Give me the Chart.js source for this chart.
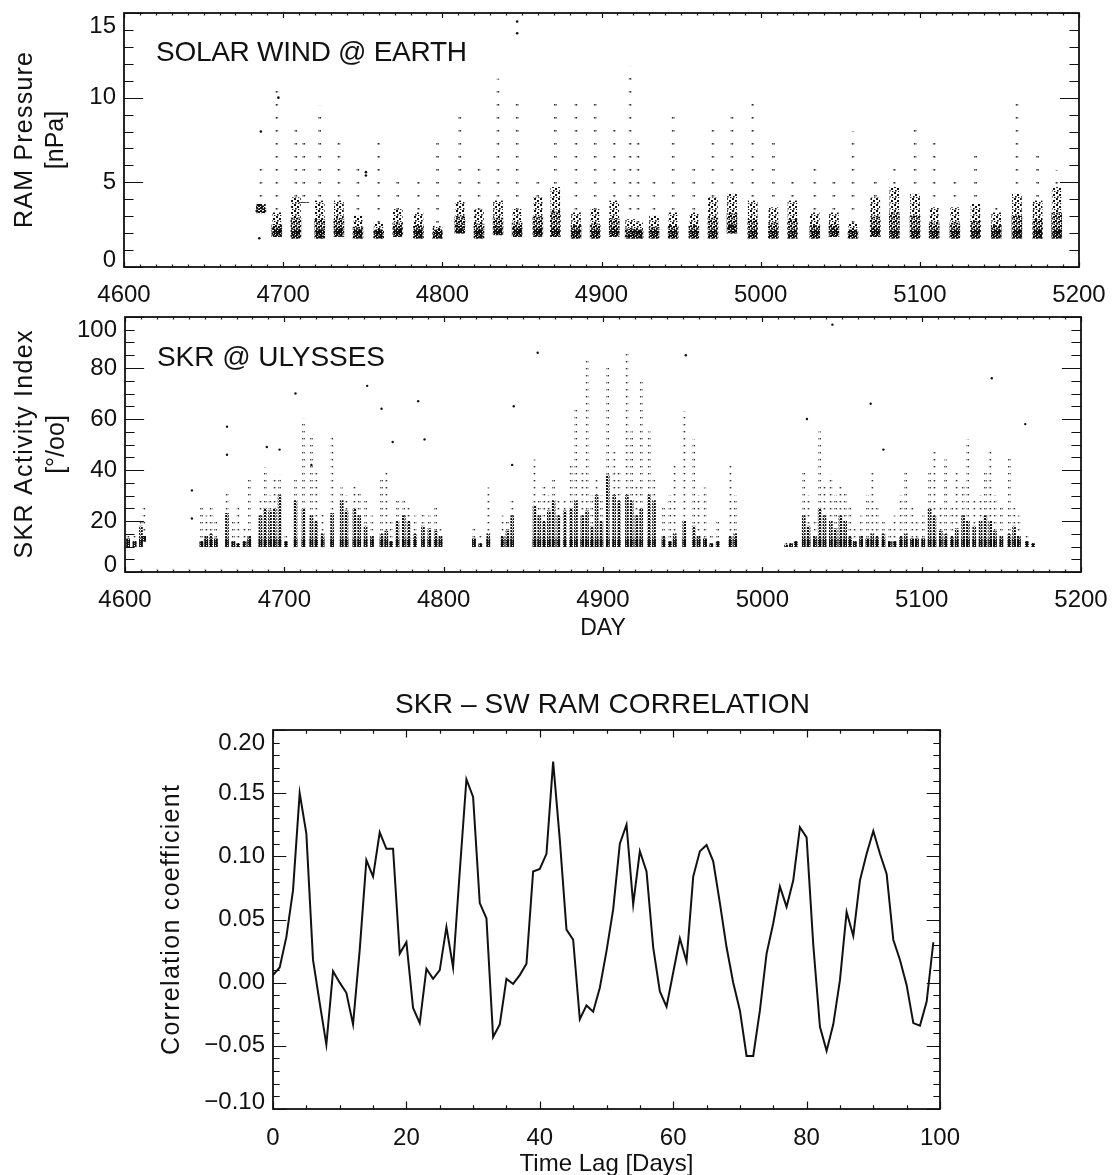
<!DOCTYPE html>
<html>
<head>
<meta charset="utf-8">
<script src="https://cdn.jsdelivr.net/npm/chart.js@4.4.0/dist/chart.umd.min.js"></script>
<style>
  html, body { margin: 0; padding: 0; background: #fff; }
  #wrap { position: relative; width: 1114px; height: 1175px; }
  canvas { position: absolute; left: 0; }
</style>
</head>
<body>
<div id="wrap">
  <canvas id="swChart" width="1114" height="315" style="top:0"></canvas>
  <canvas id="skrChart" width="1114" height="345" style="top:305px"></canvas>
  <canvas id="corrChart" width="1114" height="515" style="top:660px"></canvas>
</div>
<script>
// --- SOLAR WIND RAM PRESSURE [nPa], one entry per streak of points ---
const swDay  = [4686, 4696, 4708, 4713, 4723, 4735, 4747, 4760, 4772, 4785,
                4797, 4811, 4823, 4835, 4847, 4860, 4871, 4884, 4896, 4908,
                4918, 4923, 4933, 4945, 4958, 4970, 4982, 4995, 5008, 5020,
                5034, 5046, 5058, 5072, 5084, 5097, 5109, 5122, 5135, 5148,
                5161, 5174, 5186];
const swLow  = [3.2, 1.8, 1.7, 3.8, 1.7, 1.8, 1.7, 1.7, 1.8, 1.7,
                1.7, 2.0, 1.7, 1.9, 1.8, 1.8, 1.8, 1.7, 1.7, 1.8,
                1.7, 1.7, 1.7, 1.7, 1.7, 1.7, 2.0, 1.7, 1.7, 1.7,
                1.7, 1.8, 1.7, 1.8, 1.7, 1.7, 1.7, 1.7, 1.7, 1.7,
                1.7, 1.7, 1.7];
const swHigh = [3.7, 3.2, 4.1, 3.8, 3.9, 3.9, 3.0, 2.6, 3.4, 3.2,
                2.4, 3.9, 3.4, 3.9, 3.4, 4.1, 4.7, 3.2, 3.4, 3.9,
                2.8, 2.6, 3.0, 3.2, 3.2, 4.1, 4.3, 3.9, 3.5, 3.9,
                3.2, 3.2, 2.6, 4.1, 4.7, 4.3, 3.5, 3.5, 3.7, 3.2,
                4.3, 3.9, 4.7];
const swTop  = [6.2, 10.6, 8.4, 7.8, 9.5, 7.5, 6.4, 7.8, 5.0, 5.3,
                7.3, 9.4, 6.2, 11.1, 9.7, 5.5, 9.9, 10.1, 9.9, 8.2,
                11.8, 7.7, 5.5, 9.1, 6.1, 8.3, 9.4, 9.9, 7.5, 5.5,
                6.1, 5.3, 8.0, 5.6, 6.1, 8.7, 7.7, 5.6, 7.1, 3.9,
                10.1, 7.1, 5.7];
const swSpotDay = [4685, 4686, 4847, 4847, 4752, 4752, 4697];
const swSpotVal = [1.7, 8.0, 14.5, 13.8, 5.4, 5.6, 10.0];

// --- SKR ACTIVITY INDEX [per mille], one entry per column of points ---
const skrDay  = [4602, 4606, 4610, 4612, 4648, 4651, 4654, 4657, 4664, 4668,
                 4671, 4675, 4678, 4685, 4688, 4691, 4694, 4697, 4701, 4707,
                 4712, 4717, 4720, 4724, 4730, 4736, 4739, 4744, 4747, 4751,
                 4755, 4761, 4764, 4767, 4771, 4775, 4778, 4782, 4787, 4791,
                 4795, 4798, 4819, 4823, 4828, 4837, 4840, 4843, 4857, 4860,
                 4863, 4866, 4869, 4872, 4876, 4880, 4883, 4887, 4890, 4893,
                 4896, 4899, 4903, 4907, 4910, 4915, 4918, 4921, 4924, 4929,
                 4932, 4938, 4942, 4945, 4951, 4957, 4960, 4964, 4968, 4972,
                 4980, 4983, 5015, 5018, 5021, 5026, 5029, 5033, 5036, 5039,
                 5043, 5046, 5049, 5052, 5055, 5058, 5062, 5066, 5069, 5072,
                 5076, 5080, 5083, 5087, 5090, 5094, 5097, 5101, 5105, 5108,
                 5112, 5115, 5119, 5122, 5126, 5129, 5133, 5137, 5140, 5143,
                 5146, 5150, 5155, 5158, 5161, 5166, 5170];
const skrLow  = [10, 10, 10, 12, 10, 10, 10, 10, 10, 10,
                 10, 10, 10, 10, 10, 10, 10, 10, 10, 10,
                 10, 10, 10, 10, 10, 10, 10, 10, 10, 10,
                 10, 10, 10, 10, 10, 10, 10, 10, 10, 10,
                 10, 10, 10, 10, 10, 10, 10, 10, 10, 10,
                 10, 10, 10, 10, 10, 10, 10, 10, 10, 10,
                 10, 10, 10, 10, 10, 10, 10, 10, 10, 10,
                 10, 10, 10, 10, 10, 10, 10, 10, 10, 10,
                 10, 10, 10, 10, 10, 10, 10, 10, 10, 10,
                 10, 10, 10, 10, 10, 10, 10, 10, 10, 10,
                 10, 10, 10, 10, 10, 10, 10, 10, 10, 10,
                 10, 10, 10, 10, 10, 10, 10, 10, 10, 10,
                 10, 10, 10, 10, 10, 10, 10];
const skrHigh = [13, 12, 18, 14, 12, 14, 15, 13, 23, 12,
                 11, 12, 14, 22, 25, 24, 25, 30, 12, 28,
                 25, 22, 20, 15, 23, 28, 24, 25, 22, 18,
                 14, 15, 16, 12, 20, 22, 20, 15, 18, 17,
                 16, 14, 13, 11, 15, 14, 16, 22, 26, 22,
                 20, 24, 28, 22, 24, 25, 28, 22, 24, 18,
                 30, 20, 38, 30, 28, 30, 28, 22, 25, 30,
                 28, 14, 12, 15, 20, 18, 14, 13, 11, 12,
                 14, 15, 10.5, 11, 12, 22, 18, 14, 25, 22,
                 20, 17, 22, 20, 14, 12, 14, 13, 15, 14,
                 15, 12, 12, 14, 15, 13, 13, 13, 25, 22,
                 16, 15, 14, 17, 22, 20, 18, 20, 22, 20,
                 16, 14, 15, 18, 14, 12, 11];
const skrTop  = [16, 14, 21, 25.5, 26, 22, 26, 20, 32, 20,
                 25, 18, 37, 29, 41, 30, 38, 38, 15, 36,
                 60, 53, 40, 23, 53, 33, 30, 35, 31, 28,
                 22, 36, 40, 20, 29, 28, 26, 22, 24, 22,
                 25, 18, 17, 16, 33, 22, 20, 28, 44, 28,
                 35, 30, 37, 28, 28, 42, 65, 40, 83, 30,
                 36, 30, 80, 49, 40, 86, 55, 35, 76, 55,
                 36, 25, 30, 42, 63, 52, 30, 33, 15, 20,
                 42, 30, 12, 12, 13, 40, 30, 20, 55, 35,
                 38, 30, 35, 32, 25, 18, 22, 30, 40, 25,
                 20, 18, 22, 30, 39, 25, 20, 22, 40, 48,
                 25, 44, 25, 39, 35, 52, 28, 30, 40, 47,
                 30, 25, 45, 25, 22, 14, 13];
const skrSpotDay = [4642, 4642, 4664, 4664, 4689, 4697, 4707, 4717, 4752, 4761,
                    4768, 4784, 4788, 4843, 4844, 4859, 4952, 5028, 5044, 5068,
                    5076, 5144, 5165];
const skrSpotVal = [32, 21, 57, 46, 49, 48, 70, 42, 73, 64,
                    51, 67, 52, 42, 65, 86, 85, 60, 97, 66,
                    48, 76, 58];

// --- SKR - SW RAM CORRELATION vs time lag ---
const lagDays = [0, 1, 2, 3, 4, 5, 6, 7, 8, 9,
                 10, 11, 12, 13, 14, 15, 16, 17, 18, 19,
                 20, 21, 22, 23, 24, 25, 26, 27, 28, 29,
                 30, 31, 32, 33, 34, 35, 36, 37, 38, 39,
                 40, 41, 42, 43, 44, 45, 46, 47, 48, 49,
                 50, 51, 52, 53, 54, 55, 56, 57, 58, 59,
                 60, 61, 62, 63, 64, 65, 66, 67, 68, 69,
                 70, 71, 72, 73, 74, 75, 76, 77, 78, 79,
                 80, 81, 82, 83, 84, 85, 86, 87, 88, 89,
                 90, 91, 92, 93, 94, 95, 96, 97, 98, 99];
const corrCoef = [0.006, 0.012, 0.036, 0.073, 0.150, 0.118, 0.018, -0.016, -0.049, 0.009,
                  0.000, -0.008, -0.033, 0.026, 0.097, 0.084, 0.119, 0.106, 0.106, 0.023,
                  0.032, -0.020, -0.032, 0.011, 0.003, 0.010, 0.044, 0.012, 0.088, 0.161,
                  0.147, 0.063, 0.051, -0.043, -0.033, 0.003, -0.001, 0.006, 0.015, 0.088,
                  0.090, 0.102, 0.175, 0.113, 0.042, 0.034, -0.029, -0.018, -0.023, -0.004,
                  0.025, 0.058, 0.110, 0.125, 0.062, 0.104, 0.088, 0.028, -0.007, -0.019,
                  0.008, 0.035, 0.017, 0.084, 0.104, 0.109, 0.096, 0.063, 0.028, 0.000,
                  -0.022, -0.058, -0.058, -0.022, 0.023, 0.047, 0.076, 0.060, 0.081, 0.123,
                  0.115, 0.030, -0.035, -0.054, -0.033, 0.002, 0.056, 0.037, 0.081, 0.102,
                  0.120, 0.102, 0.086, 0.034, 0.018, -0.002, -0.032, -0.034, -0.015, 0.032];

const FONT = '"Liberation Sans", Arimo, Arial, sans-serif';
const INK = '#111';

// small dot textures so the streaks read as clouds of points
function stipple(w, h, dots, color) {
    const c = document.createElement('canvas');
    c.width = w; c.height = h;
    const g = c.getContext('2d');
    g.fillStyle = color || INK;
    dots.forEach(([x, y, s]) => g.fillRect(x, y, s || 2, s || 2));
    return g.createPattern(c, 'repeat');
}
const patCore  = stipple(4, 3, [[0, 0], [2, 1.5]]);
const patLower = stipple(5, 5, [[0, 0], [3, 1], [1, 2.5], [3.5, 3.5]]);
const patUpper = stipple(6, 6, [[0, 0], [3, 2], [1, 4, 1.6], [4, 5, 1.4]]);
const patTail  = stipple(2, 13, [[0, 0, 1.6]], '#333');
const patColB  = stipple(3, 2, [[0, 0, 2], [2, 1, 1]]);
const patCol   = stipple(3, 3, [[0, 0, 2], [2, 1.5, 1]]);
const patTailS = stipple(2, 7, [[0, 0, 1.4]], '#333');

function drawText(ctx, t) {
    ctx.save();
    ctx.translate(t.x, t.y);
    if (t.rot) ctx.rotate(t.rot);
    ctx.font = t.size + 'px ' + FONT;
    ctx.fillStyle = INK;
    ctx.textAlign = 'center';
    ctx.textBaseline = 'middle';
    if (t.w && 'letterSpacing' in ctx) {
        const natural = ctx.measureText(t.text).width;
        const gap = (t.w - natural) / Math.max(t.text.length - 1, 1);
        ctx.letterSpacing = gap.toFixed(2) + 'px';
        ctx.translate(gap / 2, 0);
    }
    ctx.fillText(t.text, 0, 0);
    ctx.restore();
}

// IDL style box: inward ticks on all four sides, labels, titles
const idlFrame = {
    id: 'idlFrame',
    afterDraw(chart, args, o) {
        const { ctx, chartArea: a } = chart;
        const x = chart.scales.x, y = chart.scales.y;
        const xLen = (a.bottom - a.top) * 0.02;
        const yLen = (a.right - a.left) * 0.02;
        ctx.save();
        ctx.strokeStyle = INK;
        ctx.lineWidth = 1.2;
        ctx.beginPath();
        const nx = Math.round((x.max - x.min) / o.xMinor);
        for (let i = 0; i <= nx; i++) {
            const v = x.min + i * o.xMinor;
            const major = Math.abs(v / o.xMajor - Math.round(v / o.xMajor)) < 1e-6;
            const len = major ? xLen : xLen / 2;
            const px = Math.round(x.getPixelForValue(v)) + 0.5;
            ctx.moveTo(px, a.bottom); ctx.lineTo(px, a.bottom - len);
            ctx.moveTo(px, a.top); ctx.lineTo(px, a.top + len);
        }
        const ny = Math.round((y.max - y.min) / o.yMinor);
        for (let i = 0; i <= ny; i++) {
            const v = y.min + i * o.yMinor;
            const major = Math.abs(v / o.yMajor - Math.round(v / o.yMajor)) < 1e-6;
            const len = major ? yLen : yLen / 2;
            const py = Math.round(y.getPixelForValue(v)) + 0.5;
            ctx.moveTo(a.left, py); ctx.lineTo(a.left + len, py);
            ctx.moveTo(a.right, py); ctx.lineTo(a.right - len, py);
        }
        ctx.stroke();
        ctx.lineWidth = 1.8;
        ctx.strokeRect(a.left, a.top, a.right - a.left, a.bottom - a.top);

        ctx.fillStyle = INK;
        ctx.font = '24px ' + FONT;
        ctx.textAlign = 'center';
        ctx.textBaseline = 'middle';
        const mx = Math.round((x.max - x.min) / o.xMajor);
        for (let i = 0; i <= mx; i++) {
            const v = x.min + i * o.xMajor;
            ctx.fillText(o.xFmt(v), x.getPixelForValue(v), a.bottom + o.xGap);
        }
        ctx.textAlign = 'right';
        const my = Math.round((y.max - y.min) / o.yMajor);
        for (let i = 0; i <= my; i++) {
            const v = y.min + i * o.yMajor;
            ctx.textBaseline = i === 0 ? 'alphabetic' : (i === my ? 'top' : 'middle');
            const py = y.getPixelForValue(v) + (i === my ? 1 : 0);
            ctx.fillText(o.yFmt(v), a.left - 8, py);
        }
        ctx.restore();
        (o.texts || []).forEach(t => drawText(ctx, t));
    }
};
Chart.register(idlFrame);

function panelOptions(pad, xr, yr, frame) {
    return {
        responsive: false,
        animation: false,
        devicePixelRatio: 1,
        layout: { padding: pad },
        events: [],
        plugins: { legend: { display: false }, tooltip: { enabled: false }, idlFrame: frame },
        scales: {
            x: { type: 'linear', display: false, min: xr[0], max: xr[1], offset: false },
            y: { type: 'linear', display: false, min: yr[0], max: yr[1] }
        }
    };
}

function barSet(data, thickness, fill) {
    return { type: 'bar', data: data, barThickness: thickness, grouped: false,
             backgroundColor: fill, borderWidth: 0 };
}
function spotSet(days, vals, r) {
    return { type: 'scatter', data: days.map((d, i) => ({ x: d, y: vals[i] })),
             pointRadius: r, pointBackgroundColor: INK, pointBorderWidth: 0 };
}
const intFmt = v => String(Math.round(v));

// --- top panel: core / lower half / upper half of each streak, then its sparse tail ---
const swMid = swLow.map((lo, i) => (lo + swHigh[i]) / 2);
new Chart(document.getElementById('swChart'), {
    type: 'bar',
    data: {
        datasets: [
            spotSet(swSpotDay, swSpotVal, 1.3),
            barSet(swDay.map((d, i) => ({ x: d, y: [swLow[i], Math.min(swLow[i] + 0.5, swHigh[i])] })), 8, patCore),
            barSet(swDay.map((d, i) => ({ x: d, y: [swLow[i], swMid[i]] })), 10, patLower),
            barSet(swDay.map((d, i) => ({ x: d, y: [swMid[i], swHigh[i]] })), 9, patUpper),
            barSet(swDay.map((d, i) => ({ x: d, y: [swHigh[i], swTop[i]] })), 2, patTail)
        ]
    },
    options: panelOptions({ left: 124, top: 13, right: 35, bottom: 48 }, [4600, 5200], [0, 15], {
        xMajor: 100, xMinor: 10, yMajor: 5, yMinor: 1, xGap: 28,
        xFmt: intFmt, yFmt: intFmt,
        texts: [
            { text: 'SOLAR WIND @ EARTH', x: 311.5, y: 53, size: 28, w: 311 },
            { text: 'RAM Pressure', x: 25, y: 140, size: 25, w: 176, rot: -Math.PI / 2 },
            { text: '[nPa]', x: 56, y: 140, size: 25, rot: -Math.PI / 2 }
        ]
    })
});

// --- middle panel ---
new Chart(document.getElementById('skrChart'), {
    type: 'bar',
    data: {
        datasets: [
            spotSet(skrSpotDay, skrSpotVal, 1.2),
            barSet(skrDay.map((d, i) => ({ x: d, y: [skrLow[i], Math.min(skrLow[i] + 3, skrHigh[i])] })), 3, patColB),
            barSet(skrDay.map((d, i) => ({ x: d, y: [skrLow[i], skrHigh[i]] })), 3, patCol),
            barSet(skrDay.map((d, i) => ({ x: d, y: [skrHigh[i], skrTop[i]] })), 2, patTailS)
        ]
    },
    options: panelOptions({ left: 125, top: 12, right: 33, bottom: 78 }, [4600, 5200], [0, 100], {
        xMajor: 100, xMinor: 10, yMajor: 20, yMinor: 5, xGap: 28,
        xFmt: intFmt, yFmt: intFmt,
        texts: [
            { text: 'SKR @ ULYSSES', x: 271, y: 53, size: 28, w: 228 },
            { text: 'SKR Activity Index', x: 25, y: 139.5, size: 25, w: 228, rot: -Math.PI / 2 },
            { text: '[°/oo]', x: 57, y: 139.5, size: 25, rot: -Math.PI / 2 },
            { text: 'DAY', x: 603, y: 324, size: 23 }
        ]
    })
});

// --- bottom panel ---
new Chart(document.getElementById('corrChart'), {
    type: 'line',
    data: {
        datasets: [{
            data: lagDays.map((d, i) => ({ x: d, y: corrCoef[i] })),
            borderColor: INK, borderWidth: 2, pointRadius: 0, tension: 0, fill: false
        }]
    },
    options: panelOptions({ left: 273, top: 70, right: 174, bottom: 66 }, [0, 100], [-0.10, 0.20], {
        xMajor: 20, xMinor: 5, yMajor: 0.05, yMinor: 0.01, xGap: 29,
        xFmt: intFmt,
        yFmt: v => (Math.abs(v) < 1e-9 ? '0.00' : (v < 0 ? '\u2212' : '') + Math.abs(v).toFixed(2)),
        texts: [
            { text: 'SKR \u2013 SW RAM CORRELATION', x: 602.5, y: 45, size: 28, w: 415 },
            { text: 'Correlation coefficient', x: 172, y: 260, size: 25, w: 270, rot: -Math.PI / 2 },
            { text: 'Time Lag [Days]', x: 606.5, y: 504, size: 24 }
        ]
    })
});
</script>
</body>
</html>
